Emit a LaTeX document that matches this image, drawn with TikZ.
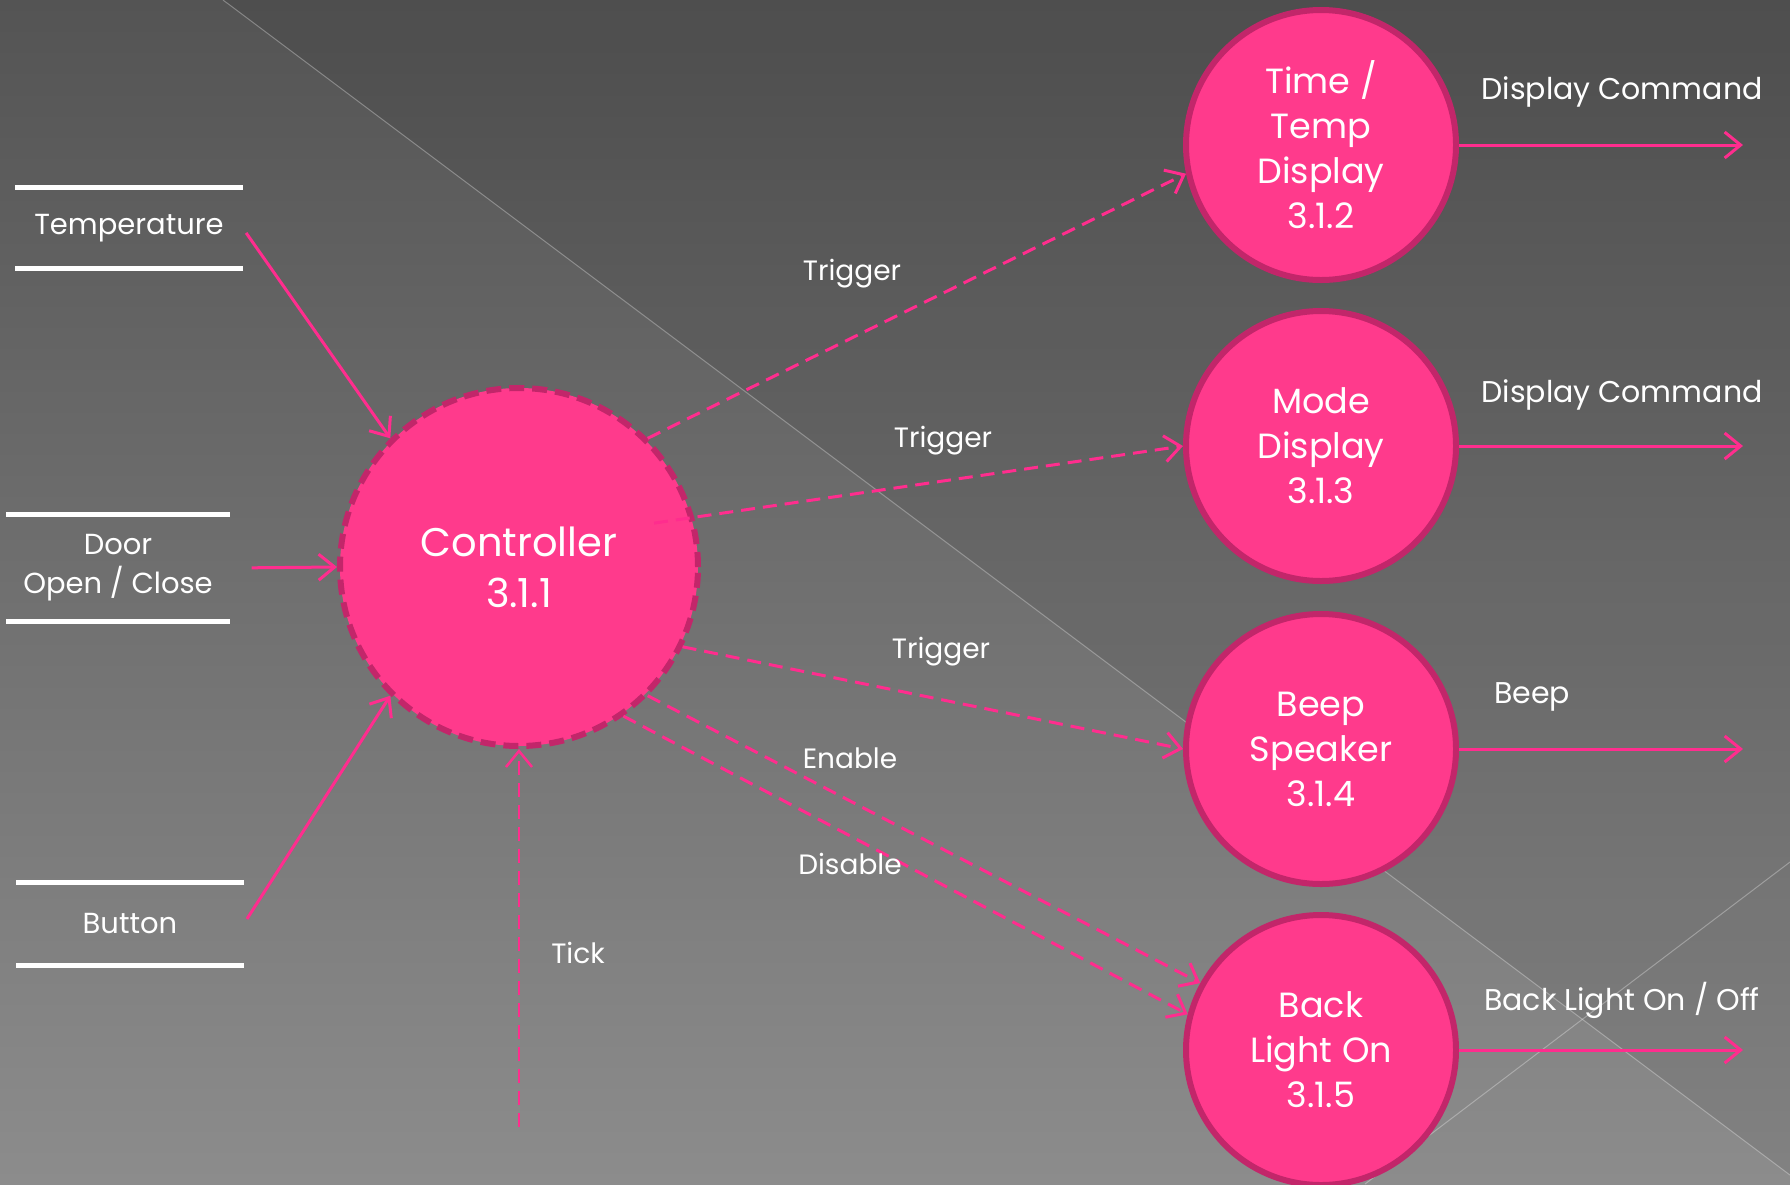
\documentclass[tikz,border=0pt]{standalone}
\usepackage{fontspec}
\setmainfont{Poppins}
\usepackage{tikz}
\usetikzlibrary{calc,arrows.meta,positioning,shapes}

\definecolor{pinkfill}{HTML}{FF3A8C}
\definecolor{pinkedge}{HTML}{C2266A}
\definecolor{pinkline}{HTML}{FF2D8E}
\definecolor{bgtop}{HTML}{545454}
\definecolor{bgbot}{HTML}{8C8C8C}

\begin{document}
\begin{tikzpicture}[x=1pt, y=-1pt, >={Straight Barb[length=16pt, width=26pt]},
	proc/.style={circle, fill=pinkfill, draw=pinkedge, line width=6pt, minimum size=270pt, inner sep=0pt, align=center, text=white, font=\fontsize{35}{45}\selectfont},
	store/.style={minimum width=227pt, minimum height=81pt, inner sep=0pt, align=center, text=white, font=\fontsize{29}{39}\selectfont},
	storeline/.style={draw=white, line width=5pt},
	flow/.style={draw=pinkline, line width=3pt, ->},
	ctrlflow/.style={flow, dash pattern=on 14pt off 8pt},
	lbl/.style={text=white, font=\fontsize{28}{34}\selectfont},
	outlbl/.style={text=white, font=\fontsize{30}{36}\selectfont}]

	% background
	\fill[top color=bgtop, bottom color=bgbot] (0,0) rectangle (1790,1184);
	\useasboundingbox (0,0) rectangle (1790,1184);
	\fill[black, opacity=0.07] (223,0) -- (1790,0) -- (1790,1175) -- cycle;
	\draw[white, opacity=0.3, line width=1pt] (223,0) -- (1790,1175);
	\draw[white, opacity=0.3, line width=1pt] (1790,862) -- (1365,1184);

	% stores
	\node (temp) at (129,228) [store] {Temperature};
	\node (door) at (118,568) [store, minimum width=223pt, minimum height=106pt] {Door\\Open / Close};
	\node (btn) at (130,924) [store, minimum height=83pt] {Button};
	\foreach \s in {temp, door, btn} {
		\draw[storeline] (\s.north west) -- (\s.north east);
		\draw[storeline] (\s.south west) -- (\s.south east);
	}

	% processes
	\node (ctrl) at (519,567) [proc, minimum size=358pt, dash pattern=on 15pt off 8pt, font=\fontsize{40}{51}\selectfont] {Controller\\3.1.1};
	\node (disp) at (1321,145) [proc] {Time /\\Temp\\Display\\3.1.2};
	\node (mode) at (1321,446) [proc] {Mode\\Display\\3.1.3};
	\node (beep) at (1321,749) [proc] {Beep\\Speaker\\3.1.4};
	\node (light) at (1321,1050) [proc] {Back\\Light On\\3.1.5};

	% inputs
	\draw[flow, shorten <=6pt] (temp.east) -- (ctrl.135);
	\draw[flow, shorten <=22pt] (door.east) -- (ctrl.west);
	\draw[flow, shorten <=6pt] (btn.east) -- (ctrl.225);
	\coordinate (clk) at (519,1127);
	\draw[ctrlflow, line width=2.5pt] (clk) -- (ctrl.south);
	\node (tick) at (578,953) [lbl] {Tick};

	% triggers
	\draw[ctrlflow] (ctrl.45) -- (disp.192);
	\draw[ctrlflow] ($(ctrl.center)!0.78!(ctrl.18)$) -- (mode.west);
	\draw[ctrlflow] (ctrl.-26) -- (beep.west);
	\draw[ctrlflow] (ctrl.-45) -- (light.151);
	\draw[ctrlflow] (ctrl.-55) -- (light.165);
	\node (trg1) at (852,274) [lbl] {Trigger};
	\node (trg2) at (943,441) [lbl] {Trigger};
	\node (trg3) at (941,652) [lbl] {Trigger};
	\node (enb) at (850,758) [lbl] {Enable};
	\node (dis) at (850,864) [lbl] {Disable};

	% outputs
	\foreach \p/\y in {disp/145, mode/446, beep/749, light/1050} {
		\coordinate (\p out) at (1743,\y);
		\draw[flow] (\p.east) -- (\p out);
	}
	\node (dc1) at (1622,92) [outlbl] {Display Command};
	\node (dc2) at (1622,395) [outlbl] {Display Command};
	\node (bp) at (1532,697) [outlbl] {Beep};
	\node (bl) at (1622,1000) [outlbl] {Back Light On / Off};
\end{tikzpicture}
\end{document}
